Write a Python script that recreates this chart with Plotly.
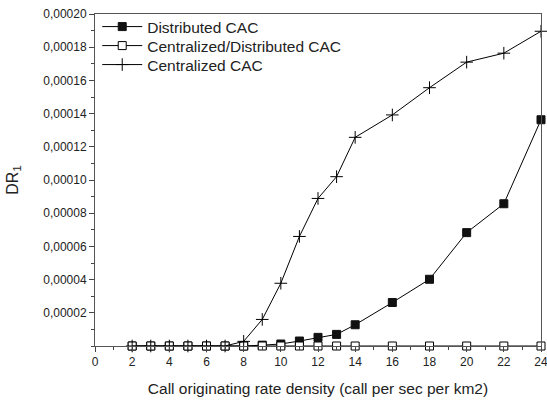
import plotly.graph_objects as go

x_vals = [2, 3, 4, 5, 6, 7, 8, 9, 10, 11, 12, 13, 14, 16, 18, 20, 22, 24]
distributed = [0, 0, 0, 0, 0, 0, 0, 0.0000005, 0.0000012, 0.000003, 0.0000052, 0.000007,
               0.0000128, 0.0000262, 0.0000402, 0.0000683, 0.0000857, 0.0001363]
cent_dist = [0] * 18
centralized = [0, 0, 0, 0, 0, 0, 0.0000028, 0.000016, 0.0000378, 0.000066, 0.0000889, 0.000102,
               0.0001257, 0.0001392, 0.0001556, 0.000171, 0.0001764, 0.0001896]

y_tickvals = [0.00002, 0.00004, 0.00006, 0.00008, 0.00010, 0.00012, 0.00014, 0.00016, 0.00018, 0.00020]
y_ticktext = ["0,00002", "0,00004", "0,00006", "0,00008", "0,00010", "0,00012", "0,00014",
              "0,00016", "0,00018", "0,00020"]
x_tickvals = list(range(0, 25, 2))

names = ["Distributed CAC", "Centralized/Distributed CAC", "Centralized CAC"]

font = "Liberation Sans, Arial, sans-serif"

fig = go.Figure()
fig.add_trace(go.Scatter(x=x_vals, y=distributed, name=names[0], mode="lines+markers",
                         line=dict(color="black", width=1), legend="legend",
                         marker=dict(symbol="square", size=8, color="#111111",
                                     line=dict(color="#111111", width=1)),
                         cliponaxis=False))
fig.add_trace(go.Scatter(x=x_vals, y=cent_dist, name=names[1], mode="lines+markers",
                         line=dict(color="black", width=1), legend="legend2",
                         marker=dict(symbol="square", size=8, color="white",
                                     line=dict(color="black", width=1)),
                         cliponaxis=False))
fig.add_trace(go.Scatter(x=x_vals, y=centralized, name=names[2], mode="lines+markers",
                         line=dict(color="black", width=1), legend="legend3",
                         marker=dict(symbol="cross-thin", size=9, color="black",
                                     line=dict(color="black", width=1)),
                         cliponaxis=False))

leg_common = dict(x=0.005, xanchor="left", yanchor="middle",
                  bgcolor="rgba(0,0,0,0)", borderwidth=0,
                  font=dict(size=15.5, family=font, color="#222222"), itemwidth=40)

fig.update_layout(
    width=547, height=400,
    margin=dict(l=95, r=6, t=14, b=54),
    paper_bgcolor="white", plot_bgcolor="white",
    font=dict(family=font, size=12, color="#222222"),
    showlegend=True,
    legend=dict(y=0.9608, **leg_common),
    legend2=dict(y=0.9036, **leg_common),
    legend3=dict(y=0.8464, **leg_common),
)
fig.update_xaxes(
    range=[0, 24], tickvals=x_tickvals, ticks="outside", ticklen=5, tickwidth=1,
    tickcolor="#444444", showline=True, linecolor="#555555", linewidth=1, mirror=True,
    showgrid=False, zeroline=False, tickfont=dict(size=12, color="#222222"),
    ticklabeloverflow="allow", automargin=False,
    minor=dict(dtick=1, ticks="outside", ticklen=3, tickcolor="#444444", showgrid=False),
    title=dict(text="Call originating rate density (call per sec per km2)",
               font=dict(size=15.5, color="#222222"), standoff=14),
)
fig.update_yaxes(
    range=[0, 0.0002], tickvals=y_tickvals, ticktext=y_ticktext, ticks="outside",
    ticklen=5, tickwidth=1, tickcolor="#444444", showline=True, linecolor="#555555",
    linewidth=1, mirror=True, showgrid=False, zeroline=False, automargin=False,
    tickfont=dict(size=12, color="#222222"),
    minor=dict(tick0=0, dtick=0.00001, ticks="outside", ticklen=3, tickcolor="#444444",
               showgrid=False),
    title=dict(text="DR<sub>1</sub>", font=dict(size=16, color="#222222"), standoff=20),
)

fig.write_html("out.html", config={"displayModeBar": False},
               post_script="document.body.style.margin='0';")
